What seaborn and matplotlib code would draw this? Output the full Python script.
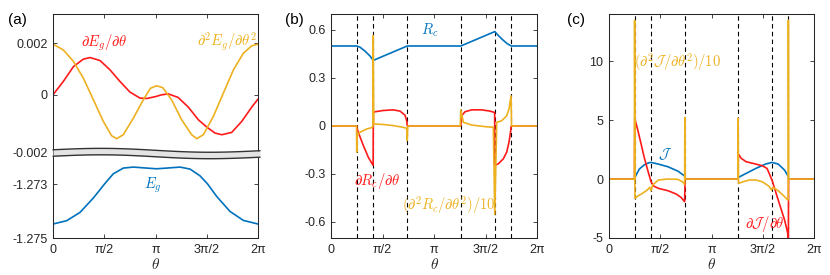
import numpy as np
import matplotlib
matplotlib.use('Agg')
import matplotlib.pyplot as plt
import seaborn as sns

PI = np.pi

# ---- values (theta given in units of pi) ----
# panel (a)
eg_th = [0, 0.133, 0.263, 0.393, 0.51, 0.588, 0.686, 0.783, 0.914, 1.01, 1.11,
         1.239, 1.337, 1.434, 1.509, 1.597, 1.727, 1.857, 2.0]
eg_val = [-1.274481, -1.274359, -1.274052, -1.273519, -1.272963, -1.272619,
          -1.272407, -1.272370, -1.272407, -1.272433, -1.272407, -1.272370,
          -1.272444, -1.272693, -1.273000, -1.273459, -1.274015, -1.274348,
          -1.274481]
deg_th = [0, 0.1, 0.2, 0.296, 0.361, 0.459, 0.556, 0.654, 0.751, 0.849, 0.914,
          1.0, 1.06, 1.125, 1.22, 1.32, 1.418, 1.5, 1.58, 1.646, 1.743, 1.841,
          1.939, 2.0]
deg_val = [0, 0.514, 1.095, 1.381, 1.443, 1.327, 0.967, 0.514, 0.104, -0.128,
           -0.143, -0.07, 0.0, 0.035, -0.1, -0.476, -0.967, -1.25, -1.48,
           -1.547, -1.458, -1.033, -0.476, -0.166]          # x 1e-3
d2eg_th = [0, 0.1, 0.2, 0.296, 0.394, 0.491, 0.572, 0.621, 0.686, 0.784, 0.881,
           0.95, 1.01, 1.07, 1.157, 1.255, 1.353, 1.402, 1.467, 1.564, 1.662,
           1.76, 1.857, 1.939, 2.0]
d2eg_val = [1.96, 1.74, 1.29, 0.646, -0.193, -1.03, -1.586, -1.70, -1.547,
            -0.902, -0.193, 0.25, 0.35, 0.28, -0.193, -0.967, -1.547, -1.70,
            -1.547, -0.84, 0.066, 0.967, 1.61, 1.90, 1.96]   # x 1e-3

# dashed guide positions (b), (c)
guides = [0.25, 0.41, 0.74, 1.26, 1.59, 1.75]

# panel (b)
rc_th = [0, 0.25, 0.282, 0.33, 0.379, 0.41, 0.74, 1.26, 1.59, 1.63, 1.67, 1.71,
         1.75, 2.0]
rc_val = [0.5, 0.5, 0.4925, 0.468, 0.437, 0.41, 0.5, 0.5, 0.59, 0.562, 0.537,
          0.515, 0.5, 0.5]
drc_th = [0, 0.249, 0.251, 0.265, 0.314, 0.362, 0.405, 0.409, 0.411, 0.427,
          0.508, 0.605, 0.67, 0.718, 0.736, 0.741, 1.26, 1.269, 1.301, 1.366,
          1.463, 1.544, 1.586, 1.589, 1.591, 1.625, 1.673, 1.706, 1.728, 1.745,
          1.75, 2.0]
drc_val = [0, 0, -0.01, -0.039, -0.122, -0.195, -0.242, -0.245, 0.085, 0.089,
           0.097, 0.101, 0.093, 0.068, 0.03, 0, 0, 0.064, 0.089, 0.101, 0.101,
           0.093, 0.085, 0.085, -0.246, -0.236, -0.205, -0.163, -0.101, -0.029,
           0, 0]
d2rc_th = [0, 0.248, 0.25, 0.253, 0.265, 0.281, 0.346, 0.394, 0.406, 0.41,
           0.415, 0.43, 0.5, 0.6, 0.7, 0.735, 0.74, 0.745, 1.255, 1.26, 1.285,
           1.366, 1.495, 1.576, 1.59, 1.609, 1.657, 1.706, 1.728, 1.748, 1.753,
           2.0]
d2rc_val = [0, 0, -0.163, -0.06, -0.05, -0.039, -0.019, -0.01, -0.005, 0.565,
            0.012, 0.012, 0.01, 0.003, -0.008, -0.015, -0.09, 0, 0, 0.101,
            0.023, 0.006, -0.004, -0.008, -0.553, 0.023, 0.033, 0.064, 0.106,
            0.188, 0, 0]

# panel (c)
j_th = [0, 0.25, 0.259, 0.296, 0.342, 0.388, 0.41, 0.482, 0.576, 0.67, 0.74,
        0.742, 1.258, 1.262, 1.338, 1.432, 1.527, 1.59, 1.651, 1.713, 1.75,
        1.752, 2.0]
j_val = [0, 0, 0.25, 0.85, 1.19, 1.38, 1.41, 1.27, 1.04, 0.68, 0.25, 0, 0, 0.14,
         0.48, 0.9, 1.27, 1.41, 1.27, 0.76, 0.2, 0, 0]
dj_th = [0, 0.249, 0.251, 0.281, 0.312, 0.342, 0.373, 0.41, 0.435, 0.482, 0.576,
         0.655, 0.702, 0.738, 0.742, 1.258, 1.262, 1.291, 1.338, 1.432, 1.495,
         1.542, 1.59, 1.651, 1.713, 1.744, 1.75, 1.752, 2.0]
dj_val = [0, 0, 5.14, 4.15, 3.02, 1.89, 0.9, -0.23, -0.59, -0.79, -0.99, -1.27,
          -1.55, -1.92, 0, 0, 2.12, 1.75, 1.47, 1.27, 1.13, 0.9, -0.08, -1.78,
          -3.47, -4.6, -5.3, 0, 0]
d2j_th = [0, 0.248, 0.25, 0.253, 0.281, 0.327, 0.373, 0.397, 0.41, 0.425, 0.482,
          0.576, 0.67, 0.717, 0.73, 0.738, 0.74, 0.743, 1.257, 1.26, 1.263,
          1.307, 1.37, 1.432, 1.495, 1.558, 1.585, 1.6, 1.651, 1.697, 1.738,
          1.748, 1.75, 1.753, 2.0]
d2j_val = [0, 0, 13.47, -1.64, -1.44, -1.21, -0.93, -0.7, -0.99, -0.51, -0.08,
           0, -0.02, -0.23, -0.37, -0.45, 5.23, 0, 0, 5.14, -0.37, -0.23, -0.08,
           -0.08, -0.23, -0.59, -0.93, -0.7, -0.99, -1.36, -1.72, -1.78, 13.47,
           0, 0]

xtick_labels = ['0', 'π/2', 'π', '3π/2', '2π']

BLUE = '#0072BD'
RED = '#FF1A1A'
ORANGE = '#EDB120'
INK = '#262626'

sns.set_theme(style='ticks')
plt.rcParams['font.family'] = ['Liberation Sans', 'DejaVu Sans']
plt.rcParams['mathtext.fontset'] = 'cm'
plt.rcParams['axes.unicode_minus'] = False


def draw(ax, th, val, color):
    sns.lineplot(x=np.asarray(th) * PI, y=val, ax=ax, color=color, lw=1.2,
                 estimator=None, sort=False, legend=False)


def style(ax):
    ax.set_xlim(0, 2 * PI)
    ax.set_xticks(np.arange(5) * PI / 2)
    ax.set_xticklabels(xtick_labels)
    ax.tick_params(direction='in', top=True, right=True, length=3, width=0.6,
                   labelsize=9, pad=4, colors=INK)
    for s in ax.spines.values():
        s.set_linewidth(0.75)
        s.set_color(INK)
    ax.set_xlabel(r'$\theta$', fontsize=11, labelpad=1, color=INK)


fig = plt.figure(figsize=(8.3, 2.75), dpi=100)
W, H = 830, 275
ax_a = fig.add_axes([53 / W, 37 / H, 205 / W, 224 / H])
ax_b = fig.add_axes([331 / W, 37 / H, 206 / W, 224 / H])
ax_c = fig.add_axes([609 / W, 37 / H, 205 / W, 224 / H])

# ---- (a): broken y axis, lower section shifted up ----
TOP = 0.00313
BOT = -0.005547


def lower(v):
    return BOT + (np.asarray(v) + 1.275) * 1.0445


draw(ax_a, eg_th, lower(eg_val), BLUE)
draw(ax_a, deg_th, np.asarray(deg_val) * 1e-3, RED)
draw(ax_a, d2eg_th, np.asarray(d2eg_val) * 1e-3, ORANGE)
ax_a.set_ylim(BOT, TOP)
style(ax_a)
ax_a.set_yticks([lower(-1.275), lower(-1.273), -0.002236, 0, 0.002])
ax_a.set_yticklabels(['-1.275', '-1.273', '-0.002', '0', '0.002'])

wave = np.linspace(0, 2.02 * PI, 120)
band_top = -0.00213 + 6.5e-5 * np.sin(wave) - 4e-5 * wave / (2 * PI)
band_bot = band_top - 0.00025
ax_a.fill_between(wave, band_top, band_bot, color='#E4E4E4', lw=0, zorder=6,
                  clip_on=False)
ax_a.plot(wave, band_top, color='#333333', lw=1.0, zorder=7, clip_on=False)
ax_a.plot(wave, band_bot, color='#333333', lw=1.0, zorder=7, clip_on=False)

ax_a.text(0.5 * PI, 0.00201, r'$\partial E_g/\partial\theta$', color=RED,
          fontsize=10.5, ha='center', va='center')
ax_a.text(1.70 * PI, 0.00205, r'$\partial^2 E_g/\partial\theta^2$', color=ORANGE,
          fontsize=10.5, ha='center', va='center')
ax_a.text(0.97 * PI, lower(-1.27303), r'$E_g$', color=BLUE, fontsize=10.5,
          ha='center', va='center')

# ---- (b) ----
for g in guides:
    ax_b.axvline(g * PI, color='black', lw=0.8, ls=(0, (4, 3)), zorder=1)
draw(ax_b, rc_th, rc_val, BLUE)
draw(ax_b, drc_th, drc_val, RED)
draw(ax_b, d2rc_th, d2rc_val, ORANGE)
ax_b.set_ylim(-0.7, 0.7)
style(ax_b)
ax_b.set_yticks([-0.6, -0.3, 0, 0.3, 0.6])
ax_b.set_yticklabels(['-0.6', '-0.3', '0', '0.3', '0.6'])
ax_b.text(0.961 * PI, 0.599, r'$R_c$', color=BLUE, fontsize=10.5,
          ha='center', va='center')
ax_b.text(0.451 * PI, -0.342, r'$\partial R_c/\partial\theta$', color=RED,
          fontsize=10.5, ha='center', va='center')
ax_b.text(1.146 * PI, -0.497, r'$(\partial^2 R_c/\partial\theta^2)/10$',
          color=ORANGE, fontsize=10.5, ha='center', va='center')

# ---- (c) ----
for g in guides:
    ax_c.axvline(g * PI, color='black', lw=0.8, ls=(0, (4, 3)), zorder=1)
draw(ax_c, j_th, j_val, BLUE)
draw(ax_c, dj_th, dj_val, RED)
draw(ax_c, d2j_th, d2j_val, ORANGE)
ax_c.set_ylim(-5, 14)
style(ax_c)
ax_c.set_yticks([-5, 0, 5, 10])
ax_c.set_yticklabels(['-5', '0', '5', '10'])
ax_c.text(0.668 * PI, 9.96, r'$(\partial^2 \mathcal{J}/\partial\theta^2)/10$',
          color=ORANGE, fontsize=10.5, ha='center', va='center')
ax_c.text(0.546 * PI, 2.1, r'$\mathcal{J}$', color=BLUE, fontsize=10.5,
          ha='center', va='center')
ax_c.text(1.52 * PI, -3.8, r'$\partial \mathcal{J}/\partial\theta$', color=RED,
          fontsize=10.5, ha='center', va='center')

for x0, lab in [(8, '(a)'), (285, '(b)'), (567, '(c)')]:
    fig.text(x0 / W, 1 - 20 / H, lab, fontsize=11, ha='left', va='center',
             color='black')

fig.savefig('out.png', dpi=100)
